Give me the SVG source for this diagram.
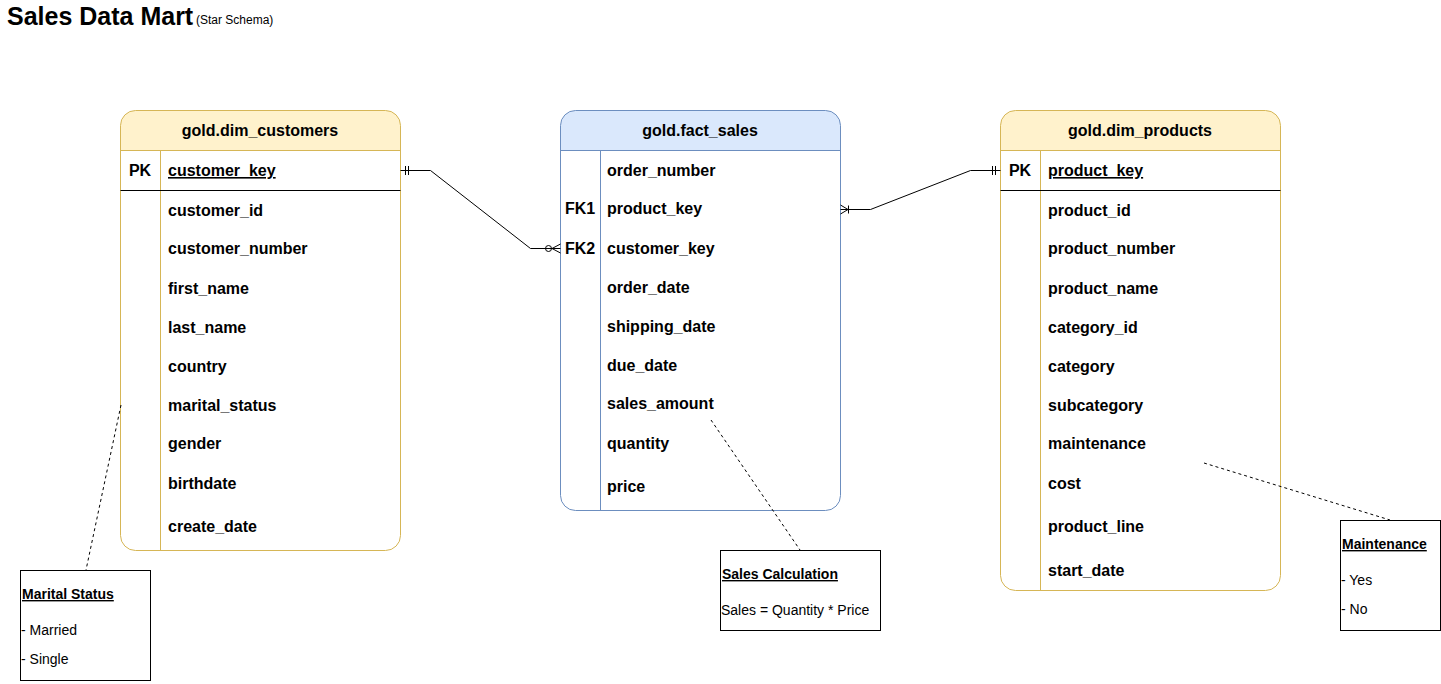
<svg xmlns="http://www.w3.org/2000/svg" width="1441" height="684" viewBox="0 0 1441 684">
<style>
text{font-family:"Liberation Sans",Arial,Helvetica,sans-serif;fill:#000}
.f{font-size:16px;font-weight:bold}
.h{font-size:16px;font-weight:bold;text-anchor:middle}
.k{font-size:16px;font-weight:bold;text-anchor:middle}
.u{text-decoration:underline}
.n{font-size:14px}
.nb{font-size:14px;font-weight:bold;text-decoration:underline}
.ys{stroke:#d6b656;fill:none;stroke-width:1}
.bs{stroke:#6c8ebf;fill:none;stroke-width:1}
.yh{fill:#fff2cc;stroke:none}
.bh{fill:#dae8fc;stroke:none}
.body{fill:#fff;stroke:none}
.sep{stroke:#000;stroke-width:1}
.ln{stroke:#000;fill:none;stroke-width:1}
.dash{stroke:#000;fill:none;stroke-width:1;stroke-dasharray:3 3}
.note{fill:#fff;stroke:#000;stroke-width:1}
</style>
<rect width="1441" height="684" fill="#fff"/>

<g id="title">
<text x="7" y="25" style="font-size:25px;font-weight:bold">Sales Data Mart</text>
<text x="196" y="24" style="font-size:12px">(Star Schema)</text>
</g>

<g id="dim_customers">
<rect class="body" x="120.5" y="110.5" width="280" height="440" rx="15"/>
<path class="yh" d="M120.5,150.5 V125.5 A15,15 0 0 1 135.5,110.5 H385.5 A15,15 0 0 1 400.5,125.5 V150.5 Z"/>
<rect class="ys" x="120.5" y="110.5" width="280" height="440" rx="15"/>
<line class="ys" x1="120.5" y1="150.5" x2="400.5" y2="150.5"/>
<line class="ys" x1="160.5" y1="150.5" x2="160.5" y2="550.5"/>
<line class="sep" x1="120.5" y1="190.5" x2="400.5" y2="190.5"/>
<text class="h" x="260" y="136">gold.dim_customers</text>
<text class="k" x="140" y="176">PK</text>
<text class="f u" x="168" y="176">customer_key</text>
<text class="f" x="168" y="216">customer_id</text>
<text class="f" x="168" y="254">customer_number</text>
<text class="f" x="168" y="294">first_name</text>
<text class="f" x="168" y="333">last_name</text>
<text class="f" x="168" y="372">country</text>
<text class="f" x="168" y="411">marital_status</text>
<text class="f" x="168" y="449">gender</text>
<text class="f" x="168" y="489">birthdate</text>
<text class="f" x="168" y="532">create_date</text>
</g>

<g id="fact_sales">
<rect class="body" x="560.5" y="110.5" width="280" height="400" rx="15"/>
<path class="bh" d="M560.5,150.5 V125.5 A15,15 0 0 1 575.5,110.5 H825.5 A15,15 0 0 1 840.5,125.5 V150.5 Z"/>
<rect class="bs" x="560.5" y="110.5" width="280" height="400" rx="15"/>
<line class="bs" x1="560.5" y1="150.5" x2="840.5" y2="150.5"/>
<line class="bs" x1="600.5" y1="150.5" x2="600.5" y2="510.5"/>
<text class="h" x="700" y="136">gold.fact_sales</text>
<text class="f" x="607" y="176">order_number</text>
<text class="k" x="580" y="214">FK1</text>
<text class="f" x="607" y="214">product_key</text>
<text class="k" x="580" y="254">FK2</text>
<text class="f" x="607" y="254">customer_key</text>
<text class="f" x="607" y="293">order_date</text>
<text class="f" x="607" y="332">shipping_date</text>
<text class="f" x="607" y="371">due_date</text>
<text class="f" x="607" y="409">sales_amount</text>
<text class="f" x="607" y="449">quantity</text>
<text class="f" x="607" y="492">price</text>
</g>

<g id="dim_products">
<rect class="body" x="1000.5" y="110.5" width="280" height="480" rx="15"/>
<path class="yh" d="M1000.5,150.5 V125.5 A15,15 0 0 1 1015.5,110.5 H1265.5 A15,15 0 0 1 1280.5,125.5 V150.5 Z"/>
<rect class="ys" x="1000.5" y="110.5" width="280" height="480" rx="15"/>
<line class="ys" x1="1000.5" y1="150.5" x2="1280.5" y2="150.5"/>
<line class="ys" x1="1040.5" y1="150.5" x2="1040.5" y2="590.5"/>
<line class="sep" x1="1000.5" y1="190.5" x2="1280.5" y2="190.5"/>
<text class="h" x="1140" y="136">gold.dim_products</text>
<text class="k" x="1020" y="176">PK</text>
<text class="f u" x="1048" y="176">product_key</text>
<text class="f" x="1048" y="216">product_id</text>
<text class="f" x="1048" y="254">product_number</text>
<text class="f" x="1048" y="294">product_name</text>
<text class="f" x="1048" y="333">category_id</text>
<text class="f" x="1048" y="372">category</text>
<text class="f" x="1048" y="411">subcategory</text>
<text class="f" x="1048" y="449">maintenance</text>
<text class="f" x="1048" y="489">cost</text>
<text class="f" x="1048" y="532">product_line</text>
<text class="f" x="1048" y="576">start_date</text>
</g>

<g id="connectors">
<!-- customers.customer_key -> fact_sales.customer_key -->
<path class="ln" d="M400.5,170.5 H430.5 L530.5,248.5 H560.5"/>
<path class="ln" d="M405.5,166 V175 M408.5,166 V175"/>
<circle class="ln" cx="548.5" cy="248.5" r="3"/>
<path class="ln" d="M552,248.5 L560.5,244 M552,248.5 L560.5,253"/>
<!-- fact_sales.product_key -> products.product_key -->
<path class="ln" d="M840.5,209.5 H870.5 L970.5,170.5 H1000.5"/>
<path class="ln" d="M848,209.5 L840.5,205 M848,209.5 L840.5,214 M848.5,205.5 V213.5"/>
<path class="ln" d="M992.5,166 V175 M995.5,166 V175"/>
<!-- note links -->
<path class="dash" d="M121,405 L86,570"/>
<path class="dash" d="M711,420 L800,550"/>
<path class="dash" d="M1204,463 L1390,520"/>
</g>

<g id="note_marital">
<rect class="note" x="20.5" y="570.5" width="130" height="110"/>
<text class="nb" x="22" y="599">Marital Status</text>
<text class="n" x="21" y="635">- Married</text>
<text class="n" x="21" y="664">- Single</text>
</g>

<g id="note_sales">
<rect class="note" x="720.5" y="550.5" width="160" height="80"/>
<text class="nb" x="722" y="579">Sales Calculation</text>
<text class="n" x="721" y="615">Sales = Quantity * Price</text>
</g>

<g id="note_maintenance">
<rect class="note" x="1340.5" y="520.5" width="100" height="110"/>
<text class="nb" x="1342" y="549">Maintenance</text>
<text class="n" x="1341" y="585">- Yes</text>
<text class="n" x="1341" y="614">- No</text>
</g>
</svg>
